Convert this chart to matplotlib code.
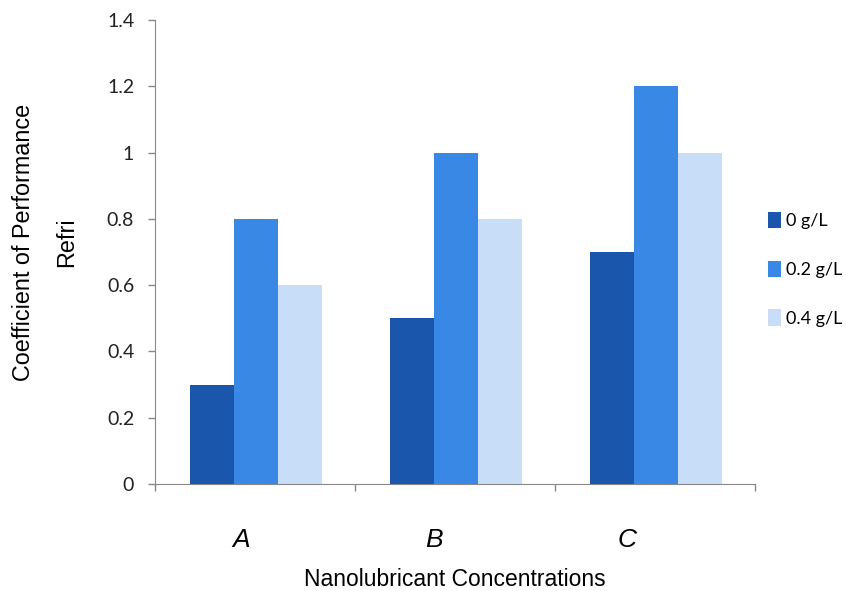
import matplotlib
matplotlib.use("Agg")
import matplotlib.pyplot as plt
import numpy as np

categories = ["A", "B", "C"]
series_names = ["0 g/L", "0.2 g/L", "0.4 g/L"]
conc_0 = [0.3, 0.5, 0.7]
conc_02 = [0.8, 1.0, 1.2]
conc_04 = [0.6, 0.8, 1.0]
yticks = [0, 0.2, 0.4, 0.6, 0.8, 1, 1.2, 1.4]

COLORS = ["#1a57ac", "#3a88e6", "#c8def8"]

fig = plt.figure(figsize=(8.47, 5.91), dpi=100)
ax = fig.add_axes([0.183, 0.181, 0.708, 0.785])

x = np.arange(len(categories))
width = 0.22
for i, (vals, name) in enumerate(zip([conc_0, conc_02, conc_04], series_names)):
    ax.bar(x + (i - 1) * width + 0.007, vals, width, color=COLORS[i], label=name, zorder=2)

ax.set_xlim(-0.5, 2.5)
ax.set_ylim(0, 1.4)
ax.set_yticks(yticks)
ax.set_yticklabels([f"{t:g}" for t in yticks], fontfamily="Lato", fontsize=14, color="#222222")

# group boundaries as ticks, labels drawn as text
ax.set_xticks([-0.5, 0.5, 1.5, 2.5])
ax.set_xticklabels([])
for i, c in enumerate(categories):
    ax.text(i - 0.07 - 0.035 * i, -0.17, c, ha="center", va="center", fontsize=19,
            style="italic", fontfamily="Liberation Sans", transform=ax.transData)

for side in ["top", "right"]:
    ax.spines[side].set_visible(False)
for side in ["left", "bottom"]:
    ax.spines[side].set_color("#888888")
ax.tick_params(axis="both", direction="out", color="#888888", length=5, width=1)
ax.tick_params(axis="y", pad=10)

ax.set_xlabel("Nanolubricant Concentrations", fontsize=16.5, fontfamily="Liberation Sans", labelpad=52)
fig.text(0.053, 0.59, "Coefficient of Performance\nRefri", rotation=90, ha="center", va="center",
         fontsize=16.8, fontfamily="Liberation Sans", linespacing=2.1, multialignment="center")

leg = ax.legend(loc="center left", bbox_to_anchor=(0.995, 0.463), frameon=False,
                prop={"family": "Lato", "size": 13}, handlelength=0.7, handleheight=1.0,
                handletextpad=0.3, labelspacing=1.75)

fig.savefig("out.png", dpi=100)
